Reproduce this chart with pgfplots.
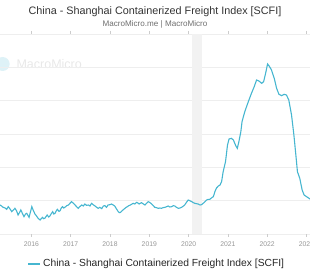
\documentclass[border=0pt]{standalone}
\usepackage{fontspec}
\setmainfont{Liberation Sans}
\usepackage{pgfplots}
\pgfplotsset{compat=1.18}
\definecolor{scfi}{RGB}{70,182,208}
\definecolor{gridc}{RGB}{238,238,238}
\definecolor{bandc}{RGB}{242,242,242}
\definecolor{titlec}{RGB}{51,51,51}
\definecolor{subc}{RGB}{110,110,110}
\definecolor{tickc}{RGB}{150,150,150}
\begin{document}
\begin{tikzpicture}
\useasboundingbox (0,0) rectangle (310pt,280pt);
\node[text=titlec, font=\fontsize{10.8}{12}\selectfont] at (155pt,268pt) {China - Shanghai Containerized Freight Index [SCFI]};
\node[text=subc, font=\fontsize{8.1}{9}\selectfont] at (155pt,256pt) {MacroMicro.me | MacroMicro};
\fill[scfi!18] (2.7pt,216pt) circle (7pt);
\node[text=black!9, font=\fontsize{12.5}{14}\selectfont, anchor=west] at (13pt,216pt) {MacroMicro};
\begin{axis}[
  at={(0pt,46pt)}, anchor=south west,
  scale only axis, width=310pt, height=200pt,
  xmin=2015.20, xmax=2023.09, ymin=0, ymax=6000,
  axis line style={draw=none},
  ymajorgrids, grid style={gridc, line width=0.6pt},
  ytick={0,1000,...,6000}, yticklabels={}, ytick style={draw=none},
  xtick={2016,2017,...,2023},
  xticklabels={2016,2017,2018,2019,2020,2021,2022,2023},
  xticklabel style={font=\fontsize{6.8}{8}\selectfont, text=tickc, yshift=-1.5pt},
  tick align=outside, major tick length=3pt,
  xtick style={draw=black!20, line width=0.5pt},
  legend style={at={(0.506,-0.15)}, anchor=center, draw=none, fill=none,
    font=\fontsize{10.3}{12}\selectfont, text=black!85},
  legend image code/.code={\draw[#1, line width=1.5pt] (0pt,0pt) -- (12pt,0pt);},
  clip=true,
]
\addplot[draw=none, fill=bandc, forget plot] coordinates {(2020.09,6000) (2020.33,6000)} \closedcycle;
\addplot[scfi, line width=1.1pt] coordinates {
(2015.10,900)(2015.15,880)(2015.20,870)(2015.24,840)(2015.28,800)(2015.33,780)
(2015.37,740)(2015.41,820)(2015.45,760)(2015.50,670)(2015.54,720)(2015.58,770)
(2015.62,700)(2015.66,570)(2015.70,650)(2015.73,720)(2015.77,620)(2015.81,520)
(2015.85,600)(2015.88,620)(2015.91,560)(2015.94,500)(2015.97,640)(2016.01,820)
(2016.05,700)(2016.09,600)(2016.13,540)(2016.17,470)(2016.22,420)(2016.25,460)
(2016.28,500)(2016.31,460)(2016.34,470)(2016.37,520)(2016.40,570)(2016.44,510)
(2016.47,540)(2016.50,600)(2016.54,670)(2016.57,600)(2016.60,620)(2016.63,690)
(2016.66,740)(2016.70,680)(2016.73,700)(2016.76,780)(2016.79,820)(2016.82,780)
(2016.85,800)(2016.90,850)(2016.94,870)(2016.98,920)(2017.02,970)(2017.06,930)
(2017.11,870)(2017.15,820)(2017.19,770)(2017.23,820)(2017.28,870)(2017.32,840)
(2017.36,900)(2017.40,860)(2017.45,870)(2017.49,840)(2017.53,920)(2017.57,880)
(2017.62,840)(2017.66,800)(2017.70,770)(2017.74,800)(2017.79,760)(2017.83,840)
(2017.87,850)(2017.91,800)(2017.95,870)(2018.00,880)(2018.04,900)(2018.08,870)
(2018.12,840)(2018.16,760)(2018.21,670)(2018.24,640)(2018.27,650)(2018.31,700)
(2018.35,740)(2018.40,790)(2018.44,820)(2018.48,850)(2018.52,870)(2018.56,900)
(2018.59,920)(2018.63,900)(2018.68,950)(2018.71,930)(2018.74,900)(2018.77,920)
(2018.80,940)(2018.85,900)(2018.89,870)(2018.93,920)(2018.97,970)(2019.02,940)
(2019.06,900)(2019.10,850)(2019.14,800)(2019.18,790)(2019.23,770)(2019.27,780)
(2019.31,770)(2019.35,790)(2019.40,800)(2019.44,820)(2019.48,840)(2019.52,810)
(2019.57,820)(2019.61,850)(2019.65,840)(2019.69,800)(2019.74,770)(2019.78,780)
(2019.82,800)(2019.86,830)(2019.90,870)(2019.94,940)(2019.99,1020)(2020.03,1000)
(2020.08,970)(2020.12,940)(2020.16,920)(2020.20,910)(2020.24,900)(2020.29,870)
(2020.33,880)(2020.37,920)(2020.41,960)(2020.46,1020)(2020.50,1040)(2020.54,1040)
(2020.58,1080)(2020.63,1120)(2020.67,1270)(2020.71,1380)(2020.76,1440)(2020.80,1470)
(2020.84,1570)(2020.88,1870)(2020.94,2170)(2020.99,2670)(2021.03,2850)(2021.09,2870)
(2021.14,2820)(2021.20,2650)(2021.24,2570)(2021.28,2770)(2021.33,3070)(2021.36,3370)
(2021.43,3670)(2021.52,3970)(2021.60,4220)(2021.67,4420)(2021.73,4620)(2021.79,4590)
(2021.86,4520)(2021.91,4570)(2021.96,4820)(2022.01,5100)(2022.05,5040)(2022.11,4920)
(2022.18,4670)(2022.24,4370)(2022.30,4190)(2022.37,4150)(2022.43,4190)(2022.49,4170)
(2022.55,4020)(2022.62,3570)(2022.68,2970)(2022.73,2370)(2022.77,1870)(2022.83,1670)
(2022.89,1320)(2022.94,1170)(2023.04,1090)(2023.13,1020)
};
\addlegendentry{China - Shanghai Containerized Freight Index [SCFI]}
\end{axis}
\end{tikzpicture}
\end{document}
